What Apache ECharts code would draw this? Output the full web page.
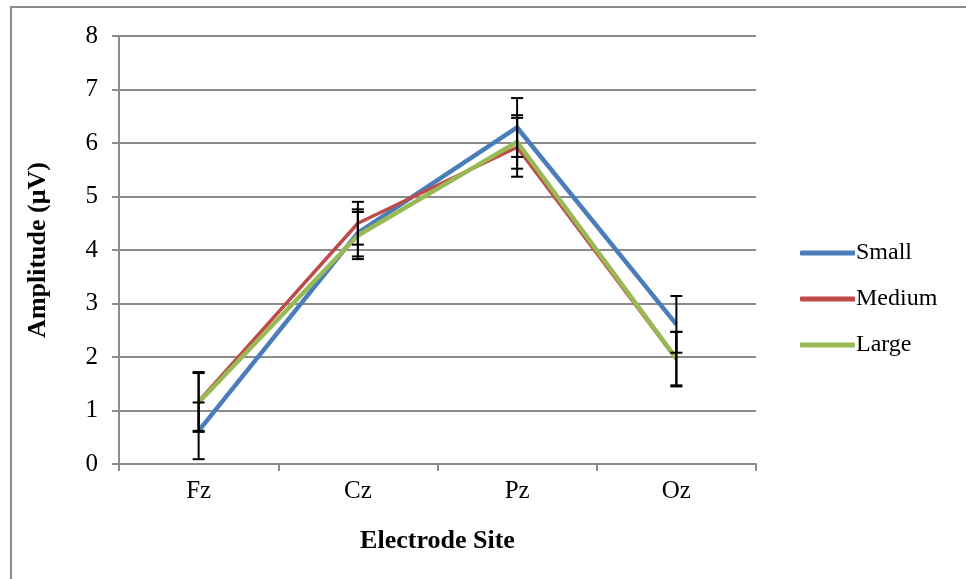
<!DOCTYPE html>
<html>
<head>
<meta charset="utf-8">
<script src="https://cdn.jsdelivr.net/npm/echarts@6/dist/echarts.min.js"></script>
<style>
  html, body { margin: 0; padding: 0; background: #fff; }
  #chart { width: 966px; height: 579px; }
</style>
</head>
<body>
<div id="chart"></div>
<script>
const sites = ['Fz', 'Cz', 'Pz', 'Oz'];
const smallMean = [0.62, 4.32, 6.29, 2.61];
const smallErr = [0.53, 0.44, 0.55, 0.53];
const mediumMean = [1.17, 4.50, 5.92, 1.96];
const mediumErr = [0.55, 0.40, 0.55, 0.51];
const largeMean = [1.15, 4.27, 6.02, 1.97];
const largeErr = [0.55, 0.44, 0.50, 0.50];

const font = '"Liberation Serif", "Times New Roman", serif';

function errData(mean, err) {
  return mean.map((m, i) => [i, m - err[i], m + err[i]]);
}

function errSeries(mean, err) {
  return {
    type: 'custom',
    silent: true,
    z: 5,
    data: errData(mean, err),
    renderItem: function (params, api) {
      const lo = api.coord([api.value(0), api.value(1)]);
      const hi = api.coord([api.value(0), api.value(2)]);
      const half = 6;
      const style = { stroke: '#000', lineWidth: 2 };
      return {
        type: 'group',
        children: [
          { type: 'line', shape: { x1: lo[0], y1: lo[1], x2: hi[0], y2: hi[1] }, style: style },
          { type: 'line', shape: { x1: hi[0] - half, y1: hi[1], x2: hi[0] + half, y2: hi[1] }, style: style },
          { type: 'line', shape: { x1: lo[0] - half, y1: lo[1], x2: lo[0] + half, y2: lo[1] }, style: style }
        ]
      };
    }
  };
}

function lineSeries(name, data, color, width) {
  return {
    name: name,
    type: 'line',
    symbol: 'none',
    data: data,
    z: 3,
    lineStyle: { color: color, width: width, join: 'round' },
    itemStyle: { color: color }
  };
}

const chart = echarts.init(document.getElementById('chart'));

const option = {
  animation: false,
  backgroundColor: '#fff',
  graphic: [{
    type: 'rect',
    shape: { x: 11, y: 7, width: 1200, height: 1200 },
    style: { fill: 'none', stroke: '#8c8c8c', lineWidth: 2 },
    silent: true
  }],
  grid: { left: 119, top: 36, right: 210, bottom: 115 },
  legend: {
    orient: 'vertical',
    left: 795,
    top: 236,
    itemWidth: 55,
    itemHeight: 5,
    itemGap: 22,
    icon: 'roundRect',
    textStyle: { fontFamily: font, fontSize: 24, color: '#000', padding: [0, 0, 0, -4] },
    data: ['Small', 'Medium', 'Large']
  },
  xAxis: {
    type: 'category',
    data: sites,
    boundaryGap: true,
    name: 'Electrode Site',
    nameLocation: 'middle',
    nameGap: 64,
    nameTextStyle: { fontFamily: font, fontSize: 26, fontWeight: 'bold', color: '#000' },
    axisLine: { lineStyle: { color: '#8c8c8c', width: 2 } },
    axisTick: { show: true, length: 7, lineStyle: { color: '#8c8c8c', width: 2 } },
    axisLabel: { fontFamily: font, fontSize: 25, color: '#000', margin: 15 },
    splitLine: { show: false }
  },
  yAxis: {
    type: 'value',
    min: 0,
    max: 8,
    interval: 1,
    name: 'Amplitude (μV)',
    nameLocation: 'middle',
    nameGap: 68,
    nameTextStyle: { fontFamily: font, fontSize: 26, fontWeight: 'bold', color: '#000' },
    axisLine: { show: true, lineStyle: { color: '#8c8c8c', width: 2 } },
    axisTick: { show: true, length: 7, lineStyle: { color: '#8c8c8c', width: 2 } },
    axisLabel: { fontFamily: font, fontSize: 25, color: '#000', margin: 21 },
    splitLine: { show: true, lineStyle: { color: '#8c8c8c', width: 2 } }
  },
  series: [
    lineSeries('Small', smallMean, '#4A7EBB', 4.5),
    lineSeries('Medium', mediumMean, '#BE4B48', 3.5),
    lineSeries('Large', largeMean, '#98B954', 4.5),
    errSeries(smallMean, smallErr),
    errSeries(mediumMean, mediumErr),
    errSeries(largeMean, largeErr)
  ]
};

chart.setOption(option);
</script>
</body>
</html>
